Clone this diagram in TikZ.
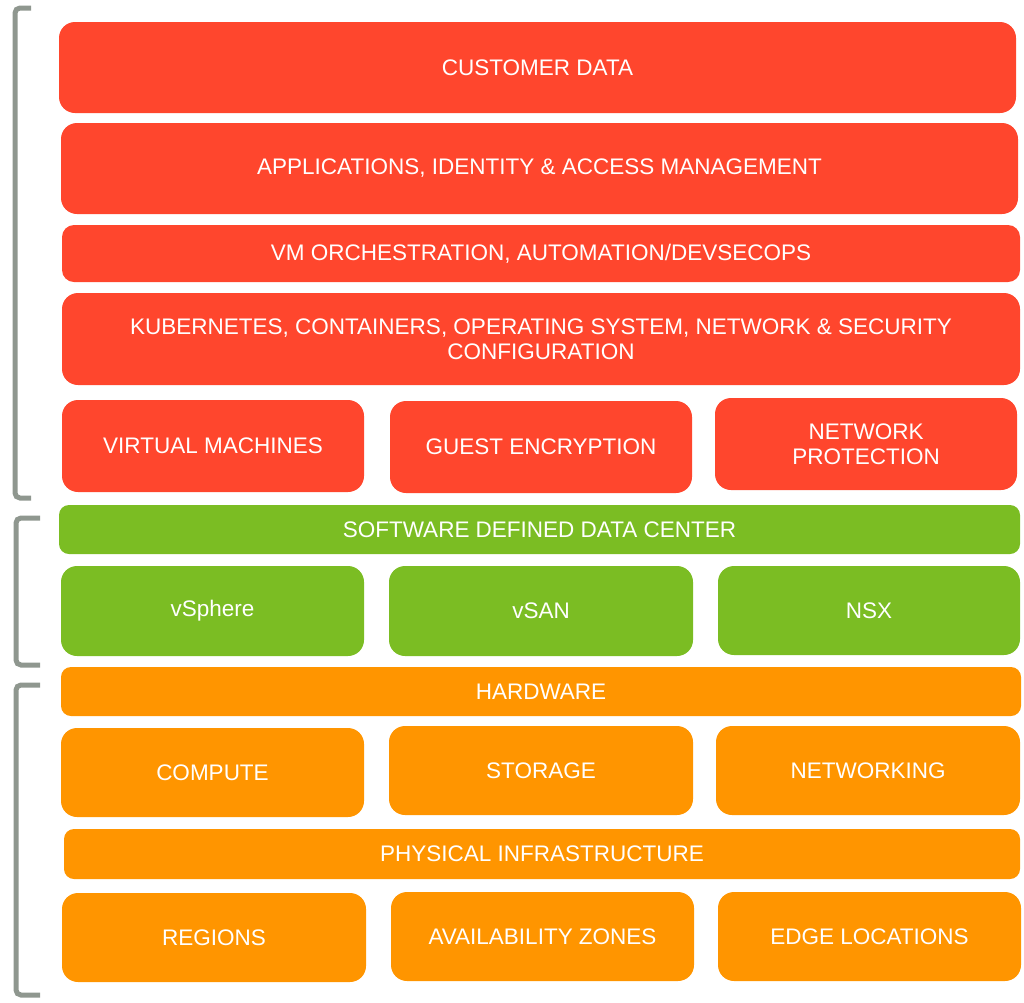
\documentclass[tikz,border=0pt]{standalone}
\usepackage{fontspec}
\setmainfont{Liberation Sans}
\definecolor{cred}{HTML}{FF462D}
\definecolor{cgreen}{HTML}{7BBD23}
\definecolor{corange}{HTML}{FF9500}
\definecolor{cgray}{HTML}{8F978F}
\begin{document}
\begin{tikzpicture}[x=1pt,y=-1pt,
  layer/.style={rounded corners=16pt, inner sep=0pt, text=white,
    font=\fontsize{22.5}{25.5}\selectfont, align=center},
  redbox/.style={layer, fill=cred},
  greenbox/.style={layer, fill=cgreen},
  orangebox/.style={layer, fill=corange},
  brk/.style={draw=cgray, line width=5pt, rounded corners=5pt}]
\useasboundingbox (0,0) rectangle (1024,1002);
% red group
\node[redbox, minimum width=957pt, minimum height=91pt] (cust) at (537.5,67.5) {CUSTOMER DATA};
\node[redbox, minimum width=957pt, minimum height=91pt] (apps) at (539.5,168.5) {APPLICATIONS, IDENTITY \& ACCESS MANAGEMENT};
\node[redbox, minimum width=958pt, minimum height=57pt, rounded corners=12pt] (vmo) at (541,253.5) {VM ORCHESTRATION, AUTOMATION/DEVSECOPS};
\node[redbox, minimum width=958pt, minimum height=92pt] (kube) at (541,339) {KUBERNETES, CONTAINERS, OPERATING SYSTEM, NETWORK \& SECURITY\\CONFIGURATION};
\node[redbox, minimum width=302pt, minimum height=92pt] (vm) at (213,446) {VIRTUAL MACHINES};
\node[redbox, minimum width=302pt, minimum height=92pt] (guest) at (541,447) {GUEST ENCRYPTION};
\node[redbox, minimum width=302pt, minimum height=92pt] (netp) at (866,444) {NETWORK\\PROTECTION};
% green group
\node[greenbox, minimum width=961pt, minimum height=49pt, rounded corners=10pt] (sddc) at (539.5,529.5) {SOFTWARE DEFINED DATA CENTER};
\node[greenbox, minimum width=303pt, minimum height=90pt] (vsphere) at (212.5,611) {vSphere};
\node[greenbox, minimum width=304pt, minimum height=90pt] (vsan) at (541,611) {vSAN};
\node[greenbox, minimum width=302pt, minimum height=89pt] (nsx) at (869,610.5) {NSX};
% orange group
\node[orangebox, minimum width=960pt, minimum height=49pt, rounded corners=10pt] (hw) at (541,691.5) {HARDWARE};
\node[orangebox, minimum width=303pt, minimum height=89pt] (comp) at (212.5,772.5) {COMPUTE};
\node[orangebox, minimum width=304pt, minimum height=89pt] (stor) at (541,770.5) {STORAGE};
\node[orangebox, minimum width=304pt, minimum height=89pt] (netw) at (868,770.5) {NETWORKING};
\node[orangebox, minimum width=956pt, minimum height=50pt, rounded corners=10pt] (phys) at (542,854) {PHYSICAL INFRASTRUCTURE};
\node[orangebox, minimum width=304pt, minimum height=89pt] (reg) at (214,937.5) {REGIONS};
\node[orangebox, minimum width=303pt, minimum height=89pt] (avz) at (542.5,936.5) {AVAILABILITY ZONES};
\node[orangebox, minimum width=303pt, minimum height=89pt] (edge) at (869.5,936.5) {EDGE LOCATIONS};
% brackets
\draw[brk] (31,8) -- (15,8) -- (15,498) -- (31,498);
\draw[brk] (40,518) -- (16,518) -- (16,665) -- (40,665);
\draw[brk] (40,685) -- (16,685) -- (16,995) -- (40,995);
\end{tikzpicture}
\end{document}
